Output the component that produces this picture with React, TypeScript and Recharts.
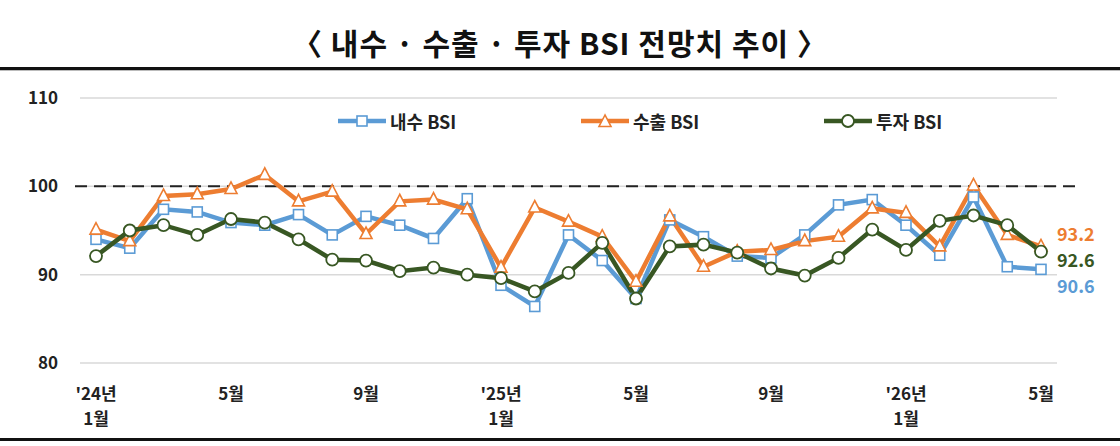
import React from "react";
import {
  LineChart,
  Line,
  XAxis,
  YAxis,
  CartesianGrid,
  ReferenceLine,
  LabelList,
} from "recharts";

const months = [
  "'24년\n1월", "2월", "3월", "4월", "5월", "6월", "7월", "8월", "9월", "10월", "11월", "12월",
  "'25년\n1월", "2월", "3월", "4월", "5월", "6월", "7월", "8월", "9월", "10월", "11월", "12월",
  "'26년\n1월", "2월", "3월", "4월", "5월",
];

const domestic = [
  94.0, 93.0, 97.4, 97.1, 95.9, 95.6, 96.8, 94.5, 96.6, 95.6, 94.1, 98.6,
  88.8, 86.4, 94.5, 91.6, 87.3, 96.2, 94.3, 92.1, 91.9, 94.5, 97.9, 98.5,
  95.6, 92.2, 98.8, 90.9, 90.6,
];

const exportBsi = [
  95.1, 93.8, 98.9, 99.1, 99.7, 101.3, 98.3, 99.4, 94.6, 98.3, 98.5, 97.4,
  90.8, 97.6, 96.0, 94.3, 89.2, 96.6, 90.9, 92.6, 92.8, 93.8, 94.3, 97.5,
  97.0, 93.2, 100.1, 94.5, 93.2,
];

const investment = [
  92.1, 95.0, 95.6, 94.5, 96.3, 95.9, 94.0, 91.7, 91.6, 90.4, 90.8, 90.0,
  89.6, 88.1, 90.2, 93.6, 87.3, 93.2, 93.4, 92.5, 90.7, 89.9, 91.9, 95.1,
  92.8, 96.1, 96.7, 95.6, 92.6,
];

const yTicks = [80, 90, 100, 110];

const seriesNames = ["내수 BSI", "수출 BSI", "투자 BSI"];

const data = months.map((m, i) => ({
  month: m,
  domestic: domestic[i],
  exportBsi: exportBsi[i],
  investment: investment[i],
}));

const BLUE = "#5B9BD5";
const ORANGE = "#ED7D31";
const GREEN = "#385723";
const FONT = "'Liberation Sans Narrow', 'Noto Sans CJK KR', sans-serif";

function SquareDot(props: any) {
  const { cx, cy } = props;
  if (cx == null || cy == null) return null;
  return <rect x={cx - 5} y={cy - 5} width={10} height={10} fill="#fff" stroke={BLUE} strokeWidth={1.6} />;
}

function TriangleDot(props: any) {
  const { cx, cy } = props;
  if (cx == null || cy == null) return null;
  return (
    <polygon
      points={`${cx},${cy - 7} ${cx - 6},${cy + 4.5} ${cx + 6},${cy + 4.5}`}
      fill="#fff"
      stroke={ORANGE}
      strokeWidth={1.6}
    />
  );
}

function CircleDot(props: any) {
  const { cx, cy } = props;
  if (cx == null || cy == null) return null;
  return <circle cx={cx} cy={cy} r={6} fill="#fff" stroke={GREEN} strokeWidth={1.8} />;
}

function MonthTick(props: any) {
  const { x, y, payload } = props;
  const lines = String(payload.value).split("\n");
  return (
    <g transform={`translate(${x},${y})`}>
      {lines.map((l, i) => (
        <text
          key={i}
          x={0}
          y={i * 25 + 21}
          textAnchor="middle"
          dominantBaseline="central"
          fontFamily={FONT}
          fontWeight="bold"
          fontSize={17}
          fill="#222"
        >
          {l}
        </text>
      ))}
    </g>
  );
}

function endLabel(color: string, dy: number) {
  return (props: any) => {
    const { x, y, index, value } = props;
    if (index !== months.length - 1) return null;
    return (
      <text
        x={x + 16}
        y={y + dy}
        dominantBaseline="central"
        fontFamily={FONT}
        fontWeight="bold"
        fontSize={18}
        fill={color}
      >
        {Number(value).toFixed(1)}
      </text>
    );
  };
}

function DashedRef(props: any) {
  const { x1, x2, y1 } = props;
  return (
    <line x1={x1 - 5} x2={x2 + 18} y1={y1} y2={y1} stroke="#222" strokeWidth={2} strokeDasharray="12 7" />
  );
}

function LegendItem({ left, color, name, marker }: any) {
  return (
    <div style={{ position: "absolute", left, top: 0, display: "flex", alignItems: "center" }}>
      <svg width={52} height={20}>
        <line x1={2} x2={50} y1={10} y2={10} stroke={color} strokeWidth={4.5} />
        {marker === "square" && <SquareDot cx={26} cy={10} />}
        {marker === "triangle" && <TriangleDot cx={26} cy={11} />}
        {marker === "circle" && <CircleDot cx={26} cy={10} />}
      </svg>
      <span style={{ fontFamily: FONT, fontWeight: "bold", fontSize: 18, color: "#222", marginLeft: 2 }}>
        {name}
      </span>
    </div>
  );
}

export default function App() {
  return (
    <div style={{ position: "relative", width: 1120, height: 446, background: "#fff", overflow: "hidden" }}>
      <style>{`body{margin:0}`}</style>
      <div
        style={{
          position: "absolute",
          top: 22,
          left: 0,
          width: 1120,
          textAlign: "center",
          fontFamily: FONT,
          fontWeight: "bold",
          fontSize: 30,
          letterSpacing: 1,
          color: "#111",
          lineHeight: "40px",
        }}
      >
        〈 내수 · 수출 · 투자 BSI 전망치 추이 〉
      </div>
      <div style={{ position: "absolute", top: 67, left: 0, width: 1120, height: 3, background: "#111" }} />
      <div style={{ position: "absolute", top: 70, left: 0, width: 1120, height: 1, background: "#bbb" }} />
      <div style={{ position: "absolute", top: 73, left: 0 }}>
        <LineChart
          width={1120}
          height={363}
          data={data}
          margin={{ top: 25, right: 63, left: 0, bottom: 0 }}
        >
          <CartesianGrid vertical={false} stroke="#d9d9d9" strokeWidth={1.5} />
          <XAxis
            dataKey="month"
            interval={3}
            axisLine={false}
            tickLine={false}
            padding={{ left: 16, right: 16 }}
            height={73}
            tick={<MonthTick />}
          />
          <YAxis
            domain={[80, 110]}
            ticks={yTicks}
            width={80}
            axisLine={false}
            tickLine={false}
            tickSize={0}
            tickMargin={22}
            tick={{ fontFamily: FONT, fontWeight: "bold", fontSize: 17, fill: "#222" }}
          />
          <ReferenceLine y={100} shape={<DashedRef />} />
          <Line
            dataKey="domestic"
            name={seriesNames[0]}
            stroke={BLUE}
            strokeWidth={4.5}
            dot={<SquareDot />}
            activeDot={false}
            isAnimationActive={false}
          >
            <LabelList dataKey="domestic" content={endLabel(BLUE, 16)} />
          </Line>
          <Line
            dataKey="exportBsi"
            name={seriesNames[1]}
            stroke={ORANGE}
            strokeWidth={4.5}
            dot={<TriangleDot />}
            activeDot={false}
            isAnimationActive={false}
          >
            <LabelList dataKey="exportBsi" content={endLabel(ORANGE, -13)} />
          </Line>
          <Line
            dataKey="investment"
            name={seriesNames[2]}
            stroke={GREEN}
            strokeWidth={4.5}
            dot={<CircleDot />}
            activeDot={false}
            isAnimationActive={false}
          >
            <LabelList dataKey="investment" content={endLabel(GREEN, 7)} />
          </Line>
        </LineChart>
      </div>
      <div style={{ position: "absolute", top: 108, left: 0, width: 1120, height: 22 }}>
        <LegendItem left={336} color={BLUE} name={seriesNames[0]} marker="square" />
        <LegendItem left={579} color={ORANGE} name={seriesNames[1]} marker="triangle" />
        <LegendItem left={822} color={GREEN} name={seriesNames[2]} marker="circle" />
      </div>
      <div style={{ position: "absolute", top: 438, left: 0, width: 1120, height: 3, background: "#111" }} />
    </div>
  );
}
